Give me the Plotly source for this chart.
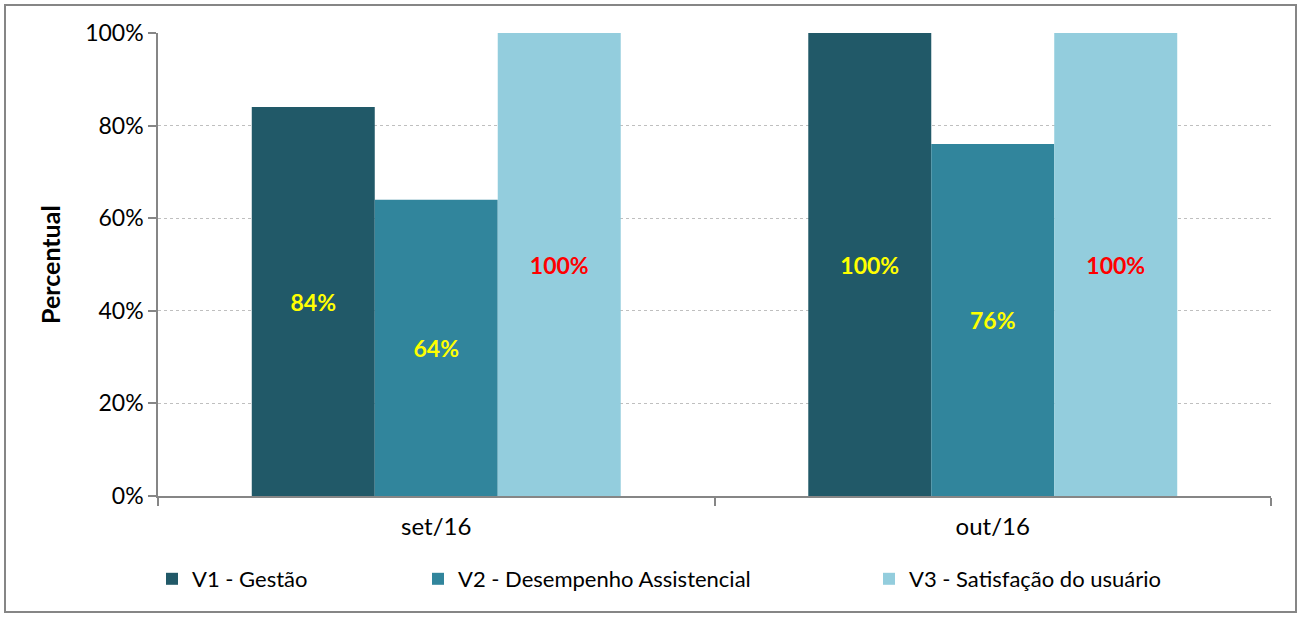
import plotly.graph_objects as go

categories = ["set/16", "out/16"]
series_names = ["V1 - Gestão", "V2 - Desempenho Assistencial", "V3 - Satisfação do usuário"]
v1_values = [84, 100]
v2_values = [64, 76]
v3_values = [100, 100]
y_ticks = [0, 20, 40, 60, 80, 100]
y_tick_labels = ["0%", "20%", "40%", "60%", "80%", "100%"]

colors = ["#215968", "#31859C", "#93CDDD"]
label_colors = ["#FFFF00", "#FFFF00", "#FF0000"]
FONT = "Lato, 'Open Sans', sans-serif"

fig = go.Figure()
legend_ids = ["legend", "legend2", "legend3"]
for name, vals, col, lc, lg in zip(series_names, [v1_values, v2_values, v3_values],
                                   colors, label_colors, legend_ids):
    fig.add_trace(go.Bar(
        x=categories, y=vals, name=name, marker=dict(color=col, line=dict(width=0)),
        text=[f"{v}%" for v in vals], texttemplate="%{text}",
        textposition="inside", insidetextanchor="middle",
        textangle=0, constraintext="none",
        textfont=dict(color=lc, size=23, family=FONT, weight="bold"),
        legend=lg, showlegend=True,
    ))

W, H = 1299, 617
ml, mr, mt, mb = 158, 28, 33, 121
pw, ph = W - ml - mr, H - mt - mb

def px_x(p):
    return (p - ml) / pw

def px_y(p):
    return (H - mb - p) / ph

legend_common = dict(orientation="h", xanchor="left", yanchor="middle",
                     font=dict(family=FONT, size=22, color="#000000"),
                     bgcolor="rgba(0,0,0,0)", borderwidth=0, itemwidth=30,
                     visible=True)

fig.update_layout(
    width=W, height=H,
    margin=dict(l=ml, r=mr, t=mt, b=mb),
    paper_bgcolor="white", plot_bgcolor="white",
    showlegend=True,
    barmode="group", bargap=0.337, bargroupgap=0,
    font=dict(family=FONT, size=22, color="#000000"),
    legend=dict(x=px_x(152), y=px_y(579), **legend_common),
    legend2=dict(x=px_x(418), y=px_y(579), **legend_common),
    legend3=dict(x=px_x(869), y=px_y(579), **legend_common),
    xaxis=dict(showline=True, linecolor="#868686", linewidth=2,
               ticks="outside", tickson="boundaries", ticklen=8, tickcolor="#868686",
               tickwidth=1.5, showgrid=False, ticklabelstandoff=8,
               tickfont=dict(family=FONT, size=24, color="#000000")),
    yaxis=dict(range=[0, 100], tickvals=y_ticks, ticktext=y_tick_labels,
               showline=True, linecolor="#868686", linewidth=1.5,
               ticks="outside", ticklen=8, tickcolor="#868686", tickwidth=1.5,
               showgrid=True, gridcolor="#BFBFBF", griddash="dot", gridwidth=1,
               zeroline=False,
               tickfont=dict(family=FONT, size=23, color="#000000")),
    shapes=[dict(type="rect", xref="paper", yref="paper",
                 x0=px_x(5), x1=px_x(1296), y0=px_y(612), y1=px_y(5),
                 line=dict(color="#868686", width=2), layer="below")],
    annotations=[dict(text="<b>Percentual</b>", xref="paper", yref="paper",
                      x=px_x(50), y=px_y(265), textangle=-90, showarrow=False,
                      xanchor="center", yanchor="middle",
                      font=dict(family=FONT, size=25, color="#000000"))],
)

fig.write_html("out.html", config={"displayModeBar": False},
               post_script="document.body.style.margin='0';")
